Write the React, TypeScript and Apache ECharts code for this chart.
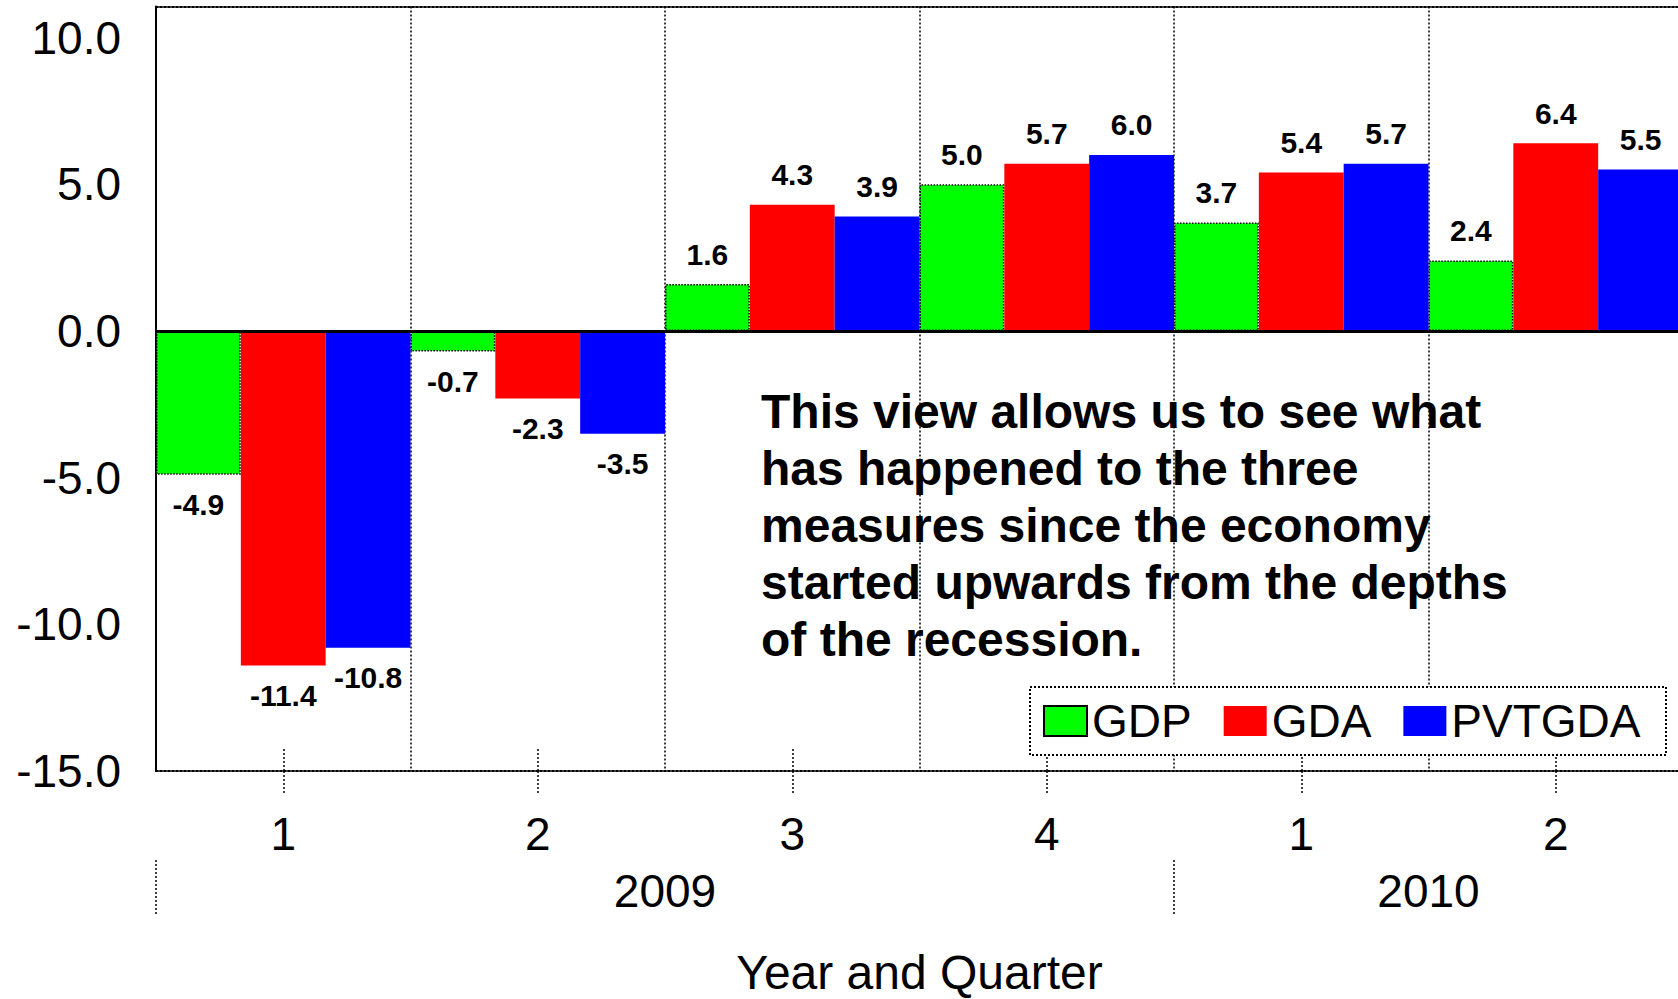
import React, { useEffect, useRef } from 'react';
import * as echarts from 'echarts';

const quarters = ['1', '2', '3', '4', '1', '2'];
const years = ['2009', '2010'];
const yearQuarterCounts = [4, 2];
const seriesNames = ['GDP', 'GDA', 'PVTGDA'];
const gdp = [-4.9, -0.7, 1.6, 5.0, 3.7, 2.4];
const gda = [-11.4, -2.3, 4.3, 5.7, 5.4, 6.4];
const pvtgda = [-10.8, -3.5, 3.9, 6.0, 5.7, 5.5];
const seriesColors = ['#00ff00', '#ff0000', '#0000ff'];
const yMin = -15;
const yMax = 11.06;
const yInterval = 5;
const noteLines = [
  'This view allows us to see what',
  'has happened to the three',
  'measures since the economy',
  'started upwards from the depths',
  'of the recession.',
];
const axisTitle = 'Year and Quarter';

const FONT = "'Liberation Sans', Arial, Helvetica, sans-serif";

export default function App() {
  const ref = useRef<HTMLDivElement>(null);

  useEffect(() => {
    if (!ref.current) return;
    const chart = echarts.init(ref.current, null, { renderer: 'svg' });

    const yearStarts: number[] = [];
    const yearCenters: number[] = [];
    let acc = 0;
    yearQuarterCounts.forEach((c) => {
      yearStarts.push(acc);
      yearCenters.push(acc + c / 2);
      acc += c;
    });
    const total = quarters.length;

    const dotted = { color: '#000', width: 2, type: [2, 2] as any };
    const seriesData = [gdp, gda, pvtgda];

    const option: any = {
      animation: false,
      backgroundColor: '#ffffff',
      grid: {
        left: 156,
        top: 6.5,
        right: -5,
        bottom: 228,
        containLabel: false,
        outerBoundsMode: 'none',
      },
      legend: {
        data: seriesNames,
        left: 1030,
        top: 687,
        orient: 'horizontal',
        icon: 'rect',
        itemWidth: 43,
        itemHeight: 30,
        itemGap: 32,
        padding: [11, 20, 11, 13],
        textStyle: { fontSize: 46, color: '#000', fontFamily: FONT },
        z: 4,
      },
      xAxis: [
        {
          type: 'category',
          data: quarters,
          position: 'bottom',
          boundaryGap: true,
          axisLine: { show: true, onZero: false, lineStyle: dotted },
          axisTick: {
            show: true,
            alignWithLabel: true,
            interval: 0,
            length: 24,
            lineStyle: { color: '#000', width: 1.5, type: [2, 2] },
          },
          axisLabel: {
            show: true,
            interval: 0,
            margin: 40,
            fontSize: 46,
            color: '#000',
            fontFamily: FONT,
          },
          splitLine: {
            show: true,
            interval: 0,
            lineStyle: { color: '#000', width: 1.5, type: [2, 2] },
          },
          name: axisTitle,
          nameLocation: 'middle',
          nameGap: 177,
          nameTextStyle: { fontSize: 48, color: '#000', fontFamily: FONT },
        },
        {
          type: 'category',
          data: quarters,
          position: 'bottom',
          boundaryGap: true,
          axisLine: { show: false, onZero: false },
          axisTick: {
            show: true,
            inside: true,
            alignWithLabel: true,
            interval: 0,
            length: 23,
            lineStyle: { color: '#000', width: 1.5, type: [2, 2] },
          },
          axisLabel: { show: false },
          splitLine: { show: false },
        },
        {
          type: 'value',
          min: 0,
          max: total,
          interval: yearStarts[1] - yearStarts[0],
          position: 'bottom',
          offset: 89,
          axisLine: { show: false, onZero: false },
          axisTick: {
            show: true,
            length: 55,
            lineStyle: { color: '#000', width: 1.5, type: [2, 2] },
          },
          axisLabel: { show: false },
          splitLine: { show: false },
        },
        {
          type: 'value',
          min: 0,
          max: total,
          interval: 1,
          position: 'bottom',
          axisLine: { show: false, onZero: false },
          axisTick: { show: false },
          splitLine: { show: false },
          axisLabel: {
            show: true,
            margin: 97,
            fontSize: 46,
            color: '#000',
            fontFamily: FONT,
            showMinLabel: true,
            showMaxLabel: true,
            formatter: (v: number) => {
              const i = yearCenters.indexOf(v);
              return i >= 0 ? years[i] : '';
            },
          },
        },
        {
          type: 'category',
          data: quarters,
          position: 'top',
          axisLine: { show: true, onZero: false, lineStyle: dotted },
          axisTick: { show: false },
          axisLabel: { show: false },
          splitLine: { show: false },
        },
      ],
      yAxis: {
        type: 'value',
        min: yMin,
        max: yMax,
        interval: yInterval,
        axisLine: { show: true, onZero: false, lineStyle: { color: '#000', width: 2 } },
        axisTick: { show: false },
        splitLine: { show: false },
        axisLabel: {
          margin: 35,
          fontSize: 46,
          color: '#000',
          fontFamily: FONT,
          showMaxLabel: false,
          formatter: (v: number) => v.toFixed(1),
        },
      },
      series: seriesNames.map((name, si) => ({
        name,
        type: 'bar',
        xAxisIndex: 0,
        barGap: '0%',
        barCategoryGap: '0%',
        itemStyle: {
          color: seriesColors[si],
          borderColor: si === 0 ? '#000' : seriesColors[si],
          borderWidth: si === 0 ? 1.5 : 0,
          borderType: 'dotted',
        },
        label: {
          show: true,
          distance: 15,
          fontSize: 30,
          fontWeight: 'bold',
          color: '#000',
          fontFamily: FONT,
          formatter: (p: any) => Number(p.value).toFixed(1),
        },
        data: seriesData[si].map((v) => ({
          value: v,
          label: { position: v < 0 ? 'bottom' : 'top' },
        })),
        markLine:
          si === 0
            ? {
                silent: true,
                symbol: ['none', 'none'],
                label: { show: false },
                lineStyle: { color: '#000', width: 3, type: 'solid' },
                data: [{ yAxis: 0 }],
              }
            : undefined,
      })),
      graphic: [
        {
          type: 'rect',
          z: 3,
          shape: { x: 1030, y: 687, width: 636, height: 68 },
          style: { fill: '#fff', stroke: '#000', lineWidth: 2, lineDash: [2, 2] },
        },
        {
          type: 'text',
          z: 3,
          x: 761,
          y: 382.5,
          style: {
            text: noteLines.join('\n'),
            fontSize: 48,
            fontWeight: 'bold',
            fontFamily: FONT,
            lineHeight: 57,
            fill: '#000',
            align: 'left',
            verticalAlign: 'top',
          },
        },
      ],
    };

    chart.setOption(option);
    return () => chart.dispose();
  }, []);

  return (
    <div
      ref={ref}
      style={{ position: 'absolute', left: 0, top: 0, width: 1678, height: 999, background: '#fff' }}
    />
  );
}
